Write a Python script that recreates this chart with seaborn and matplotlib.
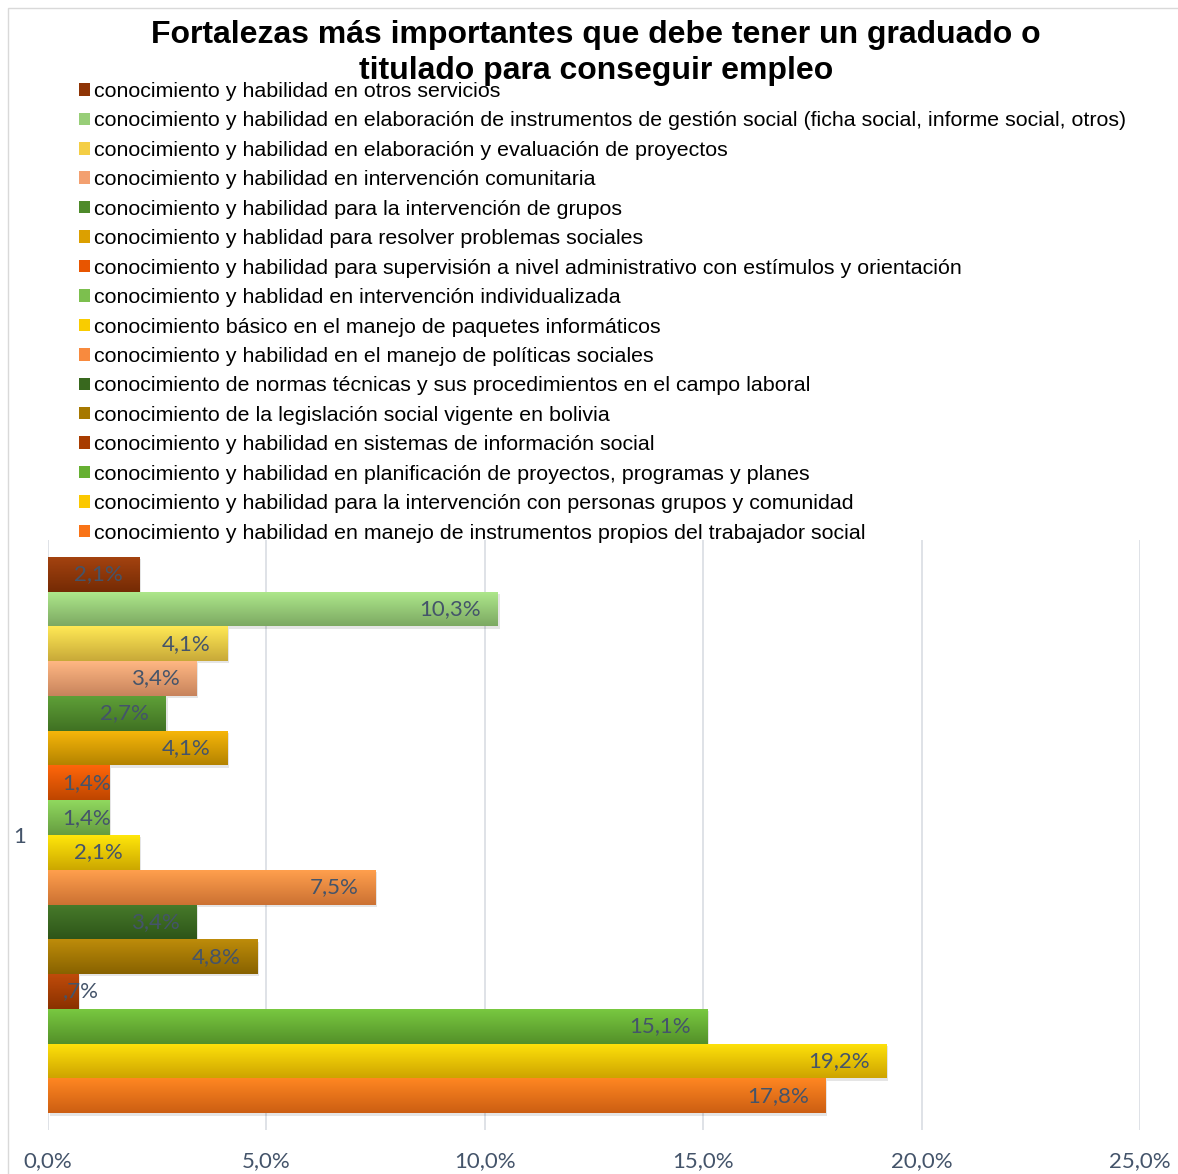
import numpy as np
import pandas as pd
import matplotlib.pyplot as plt
import matplotlib.colors as mcolors
from matplotlib.patches import Rectangle, Patch
import seaborn as sns

# Datos (orden de arriba hacia abajo, igual que la leyenda)
categorias = [
    "conocimiento y habilidad en otros servicios",
    "conocimiento y habilidad en elaboración de instrumentos de gestión social (ficha social, informe social, otros)",
    "conocimiento y habilidad en elaboración y evaluación de proyectos",
    "conocimiento y habilidad en intervención comunitaria",
    "conocimiento y habilidad para la intervención de grupos",
    "conocimiento y hablidad para resolver problemas sociales",
    "conocimiento y habilidad para supervisión a nivel administrativo con estímulos y orientación",
    "conocimiento y hablidad en intervención individualizada",
    "conocimiento básico en el manejo de paquetes informáticos",
    "conocimiento y habilidad en el manejo de políticas sociales",
    "conocimiento de normas técnicas y sus procedimientos en el campo laboral",
    "conocimiento de la legislación social vigente en bolivia",
    "conocimiento y habilidad en sistemas de información social",
    "conocimiento y habilidad en planificación de proyectos, programas y planes",
    "conocimiento y habilidad para la intervención con personas grupos y comunidad",
    "conocimiento y habilidad en manejo de instrumentos propios del trabajador social",
]
porcentajes = [2.1, 10.3, 4.1, 3.4, 2.7, 4.1, 1.4, 1.4, 2.1, 7.5, 3.4, 4.8, 0.7, 15.1, 19.2, 17.8]
colores = [
    "#8E3405", "#98CE78", "#F4CE45", "#F3A070", "#4E8A2A", "#DCA000", "#E85500", "#7CBF4E",
    "#F9CC00", "#F88A3E", "#38681E", "#A67800", "#A83C00", "#66B032", "#FBC800", "#F97316",
]
ticks_x = [0, 5, 10, 15, 20, 25]

df = pd.DataFrame({"grupo": "1", "categoria": categorias, "valor": porcentajes})

sns.set_style("white")
plt.rcParams["font.family"] = ["Liberation Sans", "DejaVu Sans"]
plt.rcParams["text.color"] = "black"

fig = plt.figure(figsize=(11.78, 11.74), dpi=100)
ax = fig.add_axes([48 / 1178, 44 / 1174, 1092 / 1178, 590 / 1174])

sns.barplot(data=df, x="valor", y="grupo", hue="categoria", hue_order=categorias,
            palette=colores, orient="h", width=0.943, ax=ax, legend=False,
            saturation=1, errorbar=None, linewidth=0)

ax.set_xlim(0, 25)
ylim = ax.get_ylim()
ax.set_autoscale_on(False)

# degradado vertical en cada barra, como en Excel
bars = [p for p in ax.patches if isinstance(p, Rectangle) and p.get_width() > 0]
for p, c in zip(bars, colores):
    rgb = np.array(mcolors.to_rgb(c))
    top = np.clip(rgb * 1.08 + 0.04, 0, 1)
    bot = rgb * 0.82
    grad = np.linspace(0, 1, 64)[:, None, None] * (bot - top) + top
    x0, y0 = p.get_x(), p.get_y()
    w, h = p.get_width(), p.get_height()
    # sombra suave
    ax.add_patch(Rectangle((x0 + 0.04, y0 + 0.004), w, h, color="#000000", alpha=0.10,
                           zorder=p.get_zorder() - 0.1, lw=0))
    im = ax.imshow(grad, extent=(x0, x0 + w, y0 + h, y0), aspect="auto",
                   zorder=p.get_zorder() + 0.05, interpolation="bilinear")
    im.set_clip_path(p)

ax.set_ylim(ylim)
ax.set_aspect("auto")

# etiquetas de datos
for p, v in zip(bars, porcentajes):
    txt = f"{v:.1f}".replace(".", ",")
    if txt.startswith("0"):
        txt = txt[1:]
    yc = p.get_y() + p.get_height() / 2
    if v < 2:
        ax.text(0.33, yc, txt + "%", ha="left", va="center", fontsize=16,
                color="#44546A", family="Lato", zorder=5)
    else:
        ax.text(v - 0.38, yc, txt + "%", ha="right", va="center", fontsize=16,
                color="#44546A", family="Lato", zorder=5)

ax.set_xticks(ticks_x)
ax.set_xticklabels([f"{t:.1f}".replace(".", ",") + "%" for t in ticks_x],
                   family="Lato", fontsize=16, color="#44546A")
ax.tick_params(axis="x", length=0, pad=15)
ax.tick_params(axis="y", length=0, pad=16)
for lab in ax.get_yticklabels():
    lab.set_family("Lato")
    lab.set_fontsize(16)
    lab.set_color("#44546A")
ax.set_xlabel("")
ax.set_ylabel("")
ax.grid(axis="x", color="#D9DDE3", lw=1.2)
ax.set_axisbelow(True)
for s in ax.spines.values():
    s.set_visible(False)

# leyenda
handles = [Patch(facecolor=c, edgecolor="none") for c in colores]
fig.legend(handles, categorias, loc="upper left", bbox_to_anchor=(79 / 1178, 1 - 82 / 1174),
           frameon=False, fontsize=15.4, handlelength=0.52, handleheight=0.52,
           handletextpad=0.2, labelspacing=0.488, borderaxespad=0, borderpad=0)

fig.text(596 / 1178, 1 - 53 / 1174,
         "Fortalezas más importantes que debe tener un graduado o\ntitulado para conseguir empleo",
         ha="center", va="center", fontsize=23, fontweight="bold", linespacing=1.22)

# borde del área del gráfico
fig.add_artist(Rectangle((8 / 1178, -0.01), 1.05, 1 - 8 / 1174 + 0.01,
                         transform=fig.transFigure, fill=False, ec="#D9D9D9", lw=1))

fig.savefig("out.png", dpi=100)
